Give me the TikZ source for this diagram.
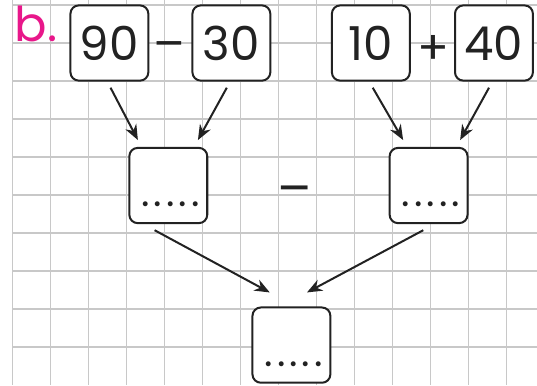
\documentclass[tikz,border=0pt]{standalone}
\usepackage{fontspec}
\setmainfont{Poppins}
\usetikzlibrary{arrows.meta}
\definecolor{ink}{HTML}{222222}
\definecolor{gridgray}{HTML}{C8C8C8}
\definecolor{pink}{HTML}{E8178A}

\begin{document}
\begin{tikzpicture}[font=\fontsize{35}{40}\selectfont, text=ink,
    box/.style={draw=ink, fill=white, line width=1.5pt, rounded corners=2.2mm,
        minimum width=2.05cm, minimum height=1.98cm, inner sep=0pt},
    answer/.style={box, label={[dotline]south:.....}},
    dotline/.style={anchor=base, xshift=0.6mm, yshift=4.6mm, inner sep=0pt,
        font=\fontsize{30}{30}\selectfont\addfontfeature{LetterSpace=10}},
    arr/.style={ink, line width=1.5pt, -{Stealth[length=4mm, width=3.2mm]}}]
    \useasboundingbox (-0.329,-1) rectangle (13.803,9.132);
    \draw[gridgray, line width=1.1pt] (0,-0.99) grid (13.803,9.132);

    \node[anchor=base west, text=pink, font=\fontsize{36}{40}\selectfont] (part) at (-0.07,8.05) {b.};

    % the four numbers
    \foreach \num/\x in {90/2.55, 30/5.76, 10/9.43, 40/12.67}
        \node[box] (n\num) at (\x,8) {\num};
    \node (op1) at (4.12,7.8) {–};
    \node (op2) at (11.09,7.82) {+};

    % results
    \node[answer] (ml) at (4.1,4.25) {};
    \node[answer] (mr) at (10.95,4.25) {};
    \node[font=\fontsize{38}{40}\selectfont] (op3) at (7.43,3.96) {–};
    \node[answer] (res) at (7.34,0.05) {};

    \draw[arr] ([shift={(0.03,-0.16)}]n90.south) -- ([shift={(-0.8,0.18)}]ml.north);
    \draw[arr] ([shift={(-0.12,-0.16)}]n30.south) -- ([shift={(0.78,0.18)}]ml.north);
    \draw[arr] ([shift={(0.05,-0.16)}]n10.south) -- ([shift={(-0.67,0.18)}]mr.north);
    \draw[arr] ([shift={(-0.13,-0.16)}]n40.south) -- ([shift={(0.83,0.18)}]mr.north);
    \draw[arr] ([shift={(-0.36,-0.16)}]ml.south) -- ([shift={(-0.57,0.37)}]res.north);
    \draw[arr] ([shift={(-0.14,-0.16)}]mr.south) -- ([shift={(0.41,0.37)}]res.north);
\end{tikzpicture}
\end{document}
